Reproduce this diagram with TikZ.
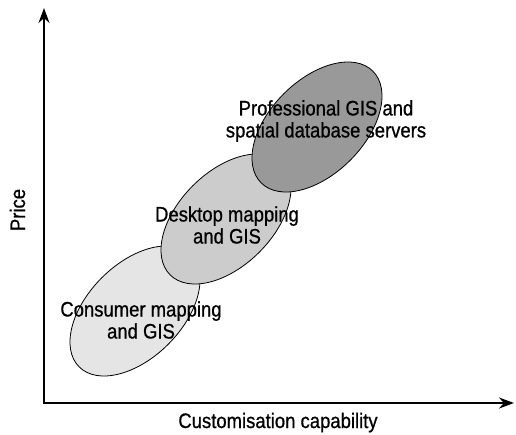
\documentclass[tikz,border=0pt]{standalone}
\usepackage{fontspec}
\setmainfont{Liberation Sans}[FakeStretch=0.88, FakeBold=0.7]
\usepackage{tikz}
\usetikzlibrary{shapes.geometric, arrows.meta, positioning}

\begin{document}
\begin{tikzpicture}[
  x=1pt, y=-1pt,
  market/.style={
    ellipse,
    draw=black,
    line width=0.8pt,
    inner sep=0pt,
    minimum width=158pt,
    minimum height=94pt,
    rotate=45
  },
  label/.style={
    align=center,
    inner sep=0pt,
    font=\fontsize{21}{22}\selectfont
  },
  axis/.style={{Stealth[length=15pt, width=11pt]}-{Stealth[length=15pt, width=11pt]}, line width=1.6pt, draw=black}
]

\useasboundingbox (0,0) rectangle (516,434);

% axes
\coordinate (origin) at (44,403);
\coordinate (ytip) at (44,8);
\coordinate (xtip) at (514,403);
\draw[axis] (ytip) -- (origin) -- (xtip);

\node[label, rotate=90, anchor=base] (price) at (25,210) {Price};
\node[label, anchor=base] (custom) at (278,428) {Customisation capability};

% market segments
\node[market, fill=black!10] (consumer) at (135,311) {};
\node[market, fill=black!20] (desktop) at (226,219) {};
\node[market, fill=black!40] (professional) at (317,127) {};

\node[label] (consumerlbl) at (141,320) {Consumer mapping\\and GIS};
\node[label] (desktoplbl) at (227,225) {Desktop mapping\\and GIS};
\node[label] (professionallbl) at (326,121) {Professional GIS and\\spatial database servers};

\end{tikzpicture}
\end{document}
